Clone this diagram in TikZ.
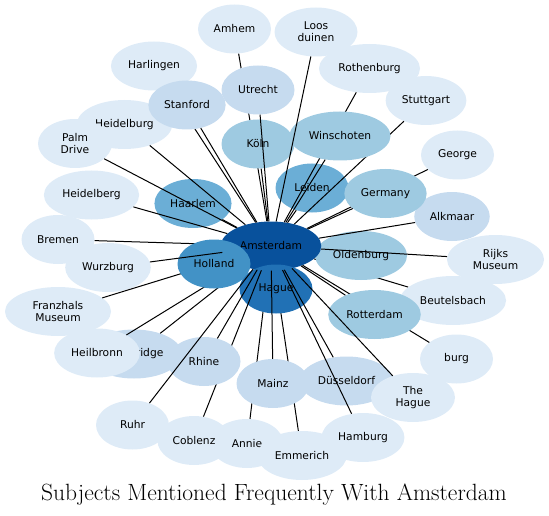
\documentclass[tikz,border=0pt]{standalone}
\usepackage{fontspec}
\setsansfont{DejaVu Sans}
\usetikzlibrary{shapes.geometric}

\definecolor{bluesA}{HTML}{DEEBF7}
\definecolor{bluesB}{HTML}{C6DBEF}
\definecolor{bluesC}{HTML}{9ECAE1}
\definecolor{bluesD}{HTML}{6BAED6}
\definecolor{bluesE}{HTML}{4292C6}
\definecolor{bluesF}{HTML}{2171B5}
\definecolor{bluesG}{HTML}{08519C}

\pgfdeclarelayer{edgeslow}
\pgfdeclarelayer{nodeslow}
\pgfdeclarelayer{edgesmid}
\pgfdeclarelayer{nodeshigh}
\pgfsetlayers{edgeslow,nodeslow,edgesmid,nodeshigh,main}

\begin{document}
\begin{tikzpicture}[x=1pt, y=-1pt, font=\sffamily,
        city/.style={ellipse, inner xsep=4.5pt, inner ysep=0pt, minimum width=73pt, minimum height=49pt,
            align=center, font=\sffamily\fontsize{10.7}{11.8}\selectfont},
        link/.style={line width=1pt}]
        \useasboundingbox (0,0) rectangle (549,516);

        \begin{pgfonlayer}{nodeslow}
        \node[city, fill=bluesA] (amh) at (234.5,29) {Amhem};
        \node[city, fill=bluesA, minimum width=83pt] (loo) at (316,32) {Loos\\duinen};
        \node[city, fill=bluesA] (har) at (154,66) {Harlingen};
        \node[city, fill=bluesA] (rob) at (369.5,68.5) {Rothenburg};
        \node[city, fill=bluesA] (stu) at (426,100.5) {Stuttgart};
        \node[city, fill=bluesA] (hdb) at (124.5,124.5) {Heidelburg};
        \node[city, fill=bluesA, minimum width=74pt] (pal) at (75,143.5) {Palm\\Drive};
        \node[city, fill=bluesA] (geo) at (457.5,155) {George};
        \node[city, fill=bluesA] (hdg) at (91.5,195) {Heidelberg};
        \node[city, fill=bluesA] (bre) at (58,239.5) {Bremen};
        \node[city, fill=bluesA] (wur) at (108,267.5) {Wurzburg};
        \node[city, fill=bluesA, minimum width=97pt] (rij) at (495.5,259.5) {Rijks\\Museum};
        \node[city, fill=bluesB] (alk) at (452,216.5) {Alkmaar};
        \node[city, fill=bluesA] (beu) at (453,300.5) {Beutelsbach};
        \node[city, fill=bluesA, minimum width=106pt] (fra) at (58,311.5) {Franzhals\\Museum};
        \node[city, fill=bluesB] (cam) at (134,354) {Cambridge};
        \node[city, fill=bluesA] (hei) at (97,353) {Heilbronn};
        \node[city, fill=bluesA] (bur) at (456.5,359) {burg};
        \node[city, fill=bluesB] (dus) at (346.5,381) {Düsseldorf};
        \node[city, fill=bluesA, minimum width=84pt] (thh) at (413,397.5) {The\\Hague};
        \node[city, fill=bluesA] (ruh) at (132.5,425) {Ruhr};
        \node[city, fill=bluesA] (ann) at (247,443.5) {Annie};
        \node[city, fill=bluesA] (cob) at (194,440.5) {Coblenz};
        \node[city, fill=bluesA] (ham) at (363,437.5) {Hamburg};
        \node[city, fill=bluesA] (emm) at (302,455.5) {Emmerich};
        \node[city, fill=bluesD] (haa) at (193,203.5) {Haarlem};
        \node[city, fill=bluesD] (lei) at (312,188) {Leiden};
        \node[city, fill=bluesC] (kol) at (258,144) {Köln};
        \node[city, fill=bluesC] (old) at (361,255.5) {Oldenburg};
        \node[city, fill=bluesG] (ams) at (271,246) {Amsterdam};
        \node[city, fill=bluesF] (hag) at (276,289) {Hague};
        \end{pgfonlayer}

        \begin{pgfonlayer}{nodeshigh}
        \node[city, fill=bluesB] (sta) at (187,105) {Stanford};
        \node[city, fill=bluesB] (utr) at (258,90) {Utrecht};
        \node[city, fill=bluesC] (win) at (340,136) {Winschoten};
        \node[city, fill=bluesC] (ger) at (385.5,193.5) {Germany};
        \node[city, fill=bluesC] (rot) at (374.5,314.5) {Rotterdam};
        \node[city, fill=bluesB] (rhi) at (204,361.5) {Rhine};
        \node[city, fill=bluesB] (mai) at (273,383.5) {Mainz};
        \node[city, fill=bluesE] (hol) at (214,264) {Holland};
        \end{pgfonlayer}

        \begin{pgfonlayer}{edgeslow}
        \foreach \n in {ann,emm,amh,beu}
            \draw[link] (ams) -- (\n);
        \end{pgfonlayer}

        \begin{pgfonlayer}{edgesmid}
        \foreach \n in {har,rob,stu,geo,bur,cob,bre,fra,hei,cam}
            \draw[link] (ams) -- (\n);
        \end{pgfonlayer}

        \foreach \n in {sta,utr,kol,loo,win,lei,ger,alk,haa,hdb,pal,hdg,wur,rij,rot,thh,rhi,ruh,mai,dus,ham}
            \draw[link] (ams) -- (\n);

        \node[anchor=base, font=\rmfamily\fontsize{23.5}{28}\selectfont] (title) at (274,500)
            {Subjects Mentioned Frequently With Amsterdam};
\end{tikzpicture}
\end{document}
